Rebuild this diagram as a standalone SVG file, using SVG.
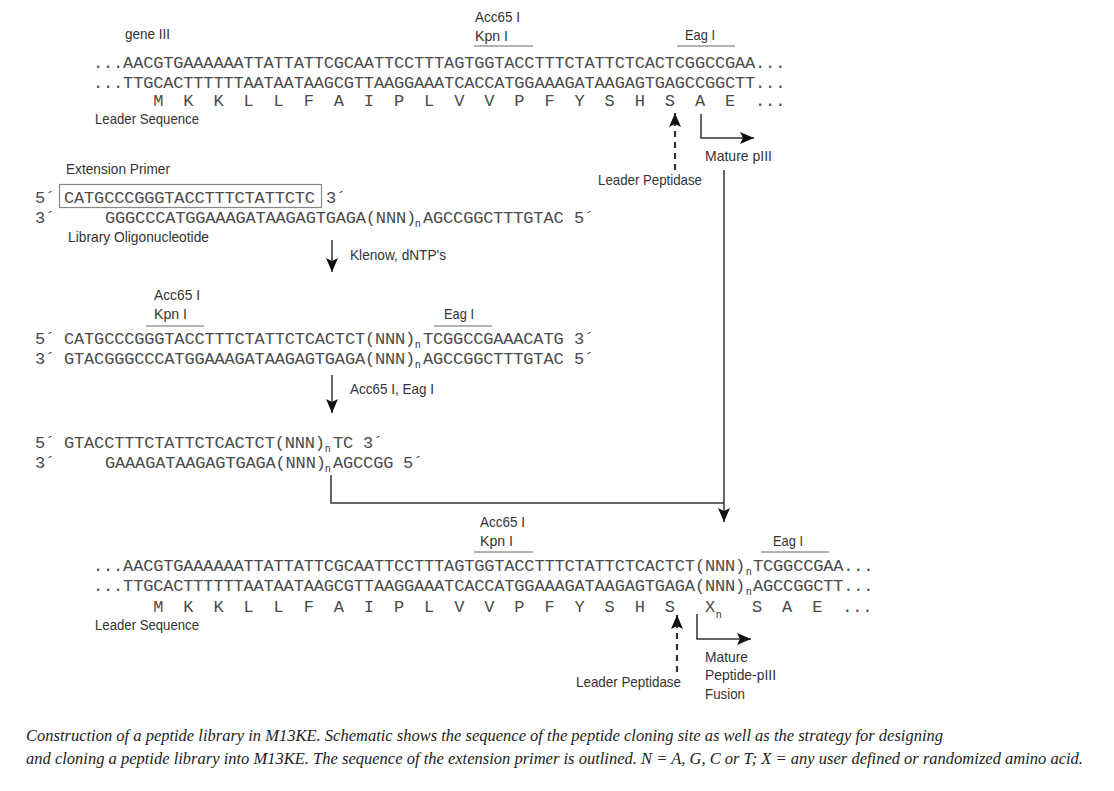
<svg xmlns="http://www.w3.org/2000/svg" width="1114" height="791" viewBox="0 0 1114 791">
<style>
.s{font-family:"Liberation Mono",monospace;font-size:17px;letter-spacing:-.17px;fill:#4a4a4a;white-space:pre}
.l{font-family:"Liberation Sans",Arial,sans-serif;font-size:15px;fill:#333}
.n{font-family:"Liberation Sans",Arial,sans-serif;font-size:10px;fill:#333}
.c{font-family:"Liberation Serif",serif;font-style:italic;font-size:16.500px;fill:#222}
.r{stroke:#999;stroke-width:1.3;fill:none}
.a{stroke:#333;stroke-width:1.5;fill:none}
</style>
<defs>
<marker id="h" markerUnits="userSpaceOnUse" markerWidth="16" markerHeight="14" refX="14" refY="7" orient="auto"><path d="M0,1 L14,7 L0,13 L3,7 Z" fill="#111"/></marker>
</defs>
<rect width="1114" height="791" fill="#fff"/>
<g id="connectors">
<path class="a" d="M332,240V272" marker-end="url(#h)"/>
<path class="a" d="M332,375V413" marker-end="url(#h)"/>
<path class="a" d="M331,475V503H724"/>
<path class="a" d="M724,170V522" marker-end="url(#h)"/>
<path class="a" d="M675,170V113" stroke-dasharray="6 5" style="stroke-width:2.2" marker-end="url(#h)"/>
<path class="a" d="M677,672V615" stroke-dasharray="6 5" style="stroke-width:2.2" marker-end="url(#h)"/>
<path class="a" d="M701,114V138H754" marker-end="url(#h)"/>
<path class="a" d="M697,614V639H751" marker-end="url(#h)"/>
</g>
<g id="top-construct">
<text class="l" lengthAdjust="spacingAndGlyphs" x="125" y="39" textLength="45">gene III</text>
<text class="l" lengthAdjust="spacingAndGlyphs" x="475" y="22" textLength="45">Acc65 I</text>
<text class="l" lengthAdjust="spacingAndGlyphs" x="475" y="41" textLength="33">Kpn I</text>
<text class="l" lengthAdjust="spacingAndGlyphs" x="685" y="40" textLength="30">Eag I</text>
<path class="r" d="M474,46H533M677,46H735"/>
<text class="s" x="93" y="68">...AACGTGAAAAAATTATTATTCGCAATTCCTTTAGTGGTACCTTTCTATTCTCACTCGGCCGAA...</text>
<text class="s" x="93" y="88">...TTGCACTTTTTTAATAATAAGCGTTAAGGAAATCACCATGGAAAGATAAGAGTGAGCCGGCTT...</text>
<text class="s" x="93" y="106">      M  K  K  L  L  F  A  I  P  L  V  V  P  F  Y  S  H  S  A  E  ...</text>
<text class="l" lengthAdjust="spacingAndGlyphs" x="95" y="124" textLength="104">Leader Sequence</text>
<text class="l" lengthAdjust="spacingAndGlyphs" x="705" y="161" textLength="67">Mature pIII</text>
<text class="l" lengthAdjust="spacingAndGlyphs" x="598" y="185" textLength="104">Leader Peptidase</text>
</g>
<g id="primer">
<text class="l" lengthAdjust="spacingAndGlyphs" x="66" y="174" textLength="104">Extension Primer</text>
<rect x="59.500" y="184.500" width="262" height="23" fill="none" stroke="#888" stroke-width="1.2"/>
<text class="s" x="35" y="203">5´</text>
<text class="s" x="64" y="203">CATGCCCGGGTACCTTTCTATTCTC</text>
<text class="s" x="326" y="203">3´</text>
<text class="s" x="35" y="223">3´</text>
<text class="s" x="105" y="223">GGGCCCATGGAAAGATAAGAGTGAGA(NNN)</text>
<text class="n" x="415" y="227">n</text>
<text class="s" x="423" y="223">AGCCGGCTTTGTAC</text>
<text class="s" x="574" y="223">5´</text>
<text class="l" lengthAdjust="spacingAndGlyphs" x="68" y="242" textLength="141">Library Oligonucleotide</text>
<text class="l" lengthAdjust="spacingAndGlyphs" x="350" y="260" textLength="96">Klenow, dNTP's</text>
</g>
<g id="extended">
<text class="l" lengthAdjust="spacingAndGlyphs" x="154" y="300" textLength="46">Acc65 I</text>
<text class="l" lengthAdjust="spacingAndGlyphs" x="154" y="319" textLength="33">Kpn I</text>
<text class="l" lengthAdjust="spacingAndGlyphs" x="444" y="319" textLength="30">Eag I</text>
<path class="r" d="M146,326H204M434,326H492"/>
<text class="s" x="35" y="344">5´</text>
<text class="s" x="64" y="344">CATGCCCGGGTACCTTTCTATTCTCACTCT(NNN)</text>
<text class="n" x="415" y="348">n</text>
<text class="s" x="423" y="344">TCGGCCGAAACATG</text>
<text class="s" x="574" y="344">3´</text>
<text class="s" x="35" y="364">3´</text>
<text class="s" x="64" y="364">GTACGGGCCCATGGAAAGATAAGAGTGAGA(NNN)</text>
<text class="n" x="415" y="368">n</text>
<text class="s" x="423" y="364">AGCCGGCTTTGTAC</text>
<text class="s" x="574" y="364">5´</text>
<text class="l" lengthAdjust="spacingAndGlyphs" x="350" y="394" textLength="84">Acc65 I, Eag I</text>
</g>
<g id="digested">
<text class="s" x="35" y="448">5´</text>
<text class="s" x="64" y="448">GTACCTTTCTATTCTCACTCT(NNN)</text>
<text class="n" x="325" y="452">n</text>
<text class="s" x="333" y="448">TC</text>
<text class="s" x="363" y="448">3´</text>
<text class="s" x="35" y="468">3´</text>
<text class="s" x="105" y="468">GAAAGATAAGAGTGAGA(NNN)</text>
<text class="n" x="325" y="472">n</text>
<text class="s" x="333" y="468">AGCCGG</text>
<text class="s" x="403" y="468">5´</text>
</g>
<g id="bottom-construct">
<text class="l" lengthAdjust="spacingAndGlyphs" x="480" y="527" textLength="45">Acc65 I</text>
<text class="l" lengthAdjust="spacingAndGlyphs" x="480" y="546" textLength="33">Kpn I</text>
<text class="l" lengthAdjust="spacingAndGlyphs" x="773" y="546" textLength="30">Eag I</text>
<path class="r" d="M474,552H533M761,552H829"/>
<text class="s" x="93" y="571">...AACGTGAAAAAATTATTATTCGCAATTCCTTTAGTGGTACCTTTCTATTCTCACTCT(NNN)</text>
<text class="n" x="746" y="575">n</text>
<text class="s" x="753" y="571">TCGGCCGAA...</text>
<text class="s" x="93" y="591">...TTGCACTTTTTTAATAATAAGCGTTAAGGAAATCACCATGGAAAGATAAGAGTGAGA(NNN)</text>
<text class="n" x="746" y="595">n</text>
<text class="s" x="753" y="591">AGCCGGCTT...</text>
<text class="s" x="93" y="612">      M  K  K  L  L  F  A  I  P  L  V  V  P  F  Y  S  H  S</text>
<text class="s" x="705" y="612">X</text>
<text class="n" x="716" y="618">n</text>
<text class="s" x="752" y="612">S  A  E  ...</text>
<text class="l" lengthAdjust="spacingAndGlyphs" x="95" y="630" textLength="104">Leader Sequence</text>
<text class="l" lengthAdjust="spacingAndGlyphs" x="576" y="687" textLength="105">Leader Peptidase</text>
<text class="l" lengthAdjust="spacingAndGlyphs" x="705" y="662" textLength="43">Mature</text>
<text class="l" lengthAdjust="spacingAndGlyphs" x="705" y="680" textLength="71">Peptide-pIII</text>
<text class="l" lengthAdjust="spacingAndGlyphs" x="705" y="699" textLength="40">Fusion</text>
</g>
<g id="caption">
<text class="c" lengthAdjust="spacingAndGlyphs" x="26" y="741" textLength="917">Construction of a peptide library in M13KE. Schematic shows the sequence of the peptide cloning site as well as the strategy for designing</text>
<text class="c" lengthAdjust="spacingAndGlyphs" x="26" y="764" textLength="1057">and cloning a peptide library into M13KE. The sequence of the extension primer is outlined. N = A, G, C or T; X = any user defined or randomized amino acid.</text>
</g>
</svg>
